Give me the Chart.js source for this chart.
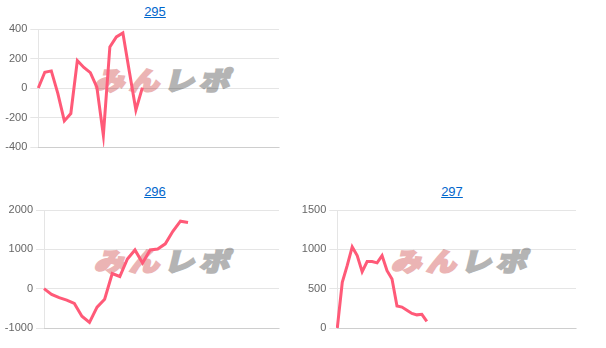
<!DOCTYPE html>
<html>
<head>
<meta charset="utf-8">
<script src="https://cdn.jsdelivr.net/npm/chart.js@4.4.1/dist/chart.umd.min.js"></script>
<style>
  html, body { margin: 0; padding: 0; background: #fff; }
  body { width: 606px; height: 348px; position: relative; overflow: hidden; font-family: Arial, "Liberation Sans", sans-serif; }
  .title { position: absolute; text-align: center; font-size: 13px; line-height: 15px; }
  .title a { color: #0066cc; text-decoration: underline; }
  .wm { position: absolute; font-family: "Noto Sans CJK JP", sans-serif; font-weight: 900; font-size: 30px; line-height: 30px; letter-spacing: 5px; transform: skewX(-14deg) scaleY(0.85); transform-origin: left top; white-space: nowrap; }
  .wm .a { color: #ebb4b4; -webkit-text-stroke: 2.5px #ebb4b4; }
  .wm .b { color: #b4b4b4; -webkit-text-stroke: 2.5px #b4b4b4; }
  canvas { position: absolute; }
</style>
</head>
<body>
<div class="title" style="left:0;top:4px;width:310px;"><a href="#">295</a></div>
<div class="title" style="left:0;top:184px;width:310px;"><a href="#">296</a></div>
<div class="title" style="left:300px;top:184px;width:304px;"><a href="#">297</a></div>

<div class="wm" style="left:100px;top:66px;"><span class="a">みん</span><span class="b">レポ</span></div>
<div class="wm" style="left:100px;top:247px;"><span class="a">みん</span><span class="b">レポ</span></div>
<div class="wm" style="left:397px;top:247px;"><span class="a">みん</span><span class="b">レポ</span></div>

<canvas id="c295" width="289" height="138" style="left:0;top:18.5px;"></canvas>
<canvas id="c296" width="289" height="138" style="left:0;top:199.5px;"></canvas>
<canvas id="c297" width="286" height="138" style="left:300px;top:199.5px;"></canvas>

<script>
// ---- data ----
const titles = ['295', '296', '297'];
const labelCounts = [38, 32, 49];
const values295 = [0, 107, 116, -36, -223, -173, 186, 139, 104, 6, -321, 278, 346, 373, 110, -150, 2];
const values296 = [0, -145, -230, -290, -375, -700, -855, -470, -270, 385, 310, 755, 985, 650, 985, 1010, 1140, 1460, 1715, 1680];
const values297 = [0, 580, 795, 1030, 921, 716, 845, 845, 828, 921, 728, 622, 279, 266, 227, 185, 167, 174, 85];
const yMins = [-400, -1000, 0];
const yMaxs = [400, 2000, 1500];
const ySteps = [200, 1000, 500];
const yTickLabels = [
  ['-400', '-200', '0', '200', '400'],
  ['-1000', '0', '1000', '2000'],
  ['0', '500', '1000', '1500']
];

const seriesList = [values295, values296, values297];
const canvasIds = ['c295', 'c296', 'c297'];
const yAxisWidths = [38.3, 44, 37.3];

function makeChart(i) {
  const labels = [];
  for (let k = 1; k <= labelCounts[i]; k++) labels.push(String(k));
  const yw = yAxisWidths[i];
  new Chart(document.getElementById(canvasIds[i]), {
    type: 'line',
    data: {
      labels: labels,
      datasets: [{
        label: titles[i],
        data: seriesList[i],
        borderColor: 'rgb(255, 90, 120)',
        backgroundColor: 'rgb(255, 90, 120)',
        borderWidth: 3,
        pointRadius: 0,
        pointHoverRadius: 0,
        tension: 0,
        fill: false
      }]
    },
    options: {
      responsive: false,
      animation: false,
      events: [],
      layout: { padding: { top: 10, bottom: 10, left: 0, right: 10 } },
      plugins: { legend: { display: false }, title: { display: false }, tooltip: { enabled: false } },
      scales: {
        x: {
          display: true,
          grid: { display: false },
          ticks: { display: false },
          border: { display: true, color: 'rgba(0,0,0,0.1)' },
          afterFit: (s) => { s.height = 0; }
        },
        y: {
          min: yMins[i],
          max: yMaxs[i],
          ticks: {
            stepSize: ySteps[i],
            color: '#666',
            font: { size: 11, family: 'Arial, "Liberation Sans", sans-serif' },
            padding: 3,
            callback: (v) => {
              const s = String(v);
              return yTickLabels[i].includes(s) ? s : '';
            }
          },
          grid: { color: 'rgba(0,0,0,0.1)', tickLength: 8 },
          border: { display: true, color: 'rgba(0,0,0,0.1)' },
          afterFit: (s) => { s.width = yw; }
        }
      }
    }
  });
}
for (let i = 0; i < 3; i++) makeChart(i);
</script>
</body>
</html>
